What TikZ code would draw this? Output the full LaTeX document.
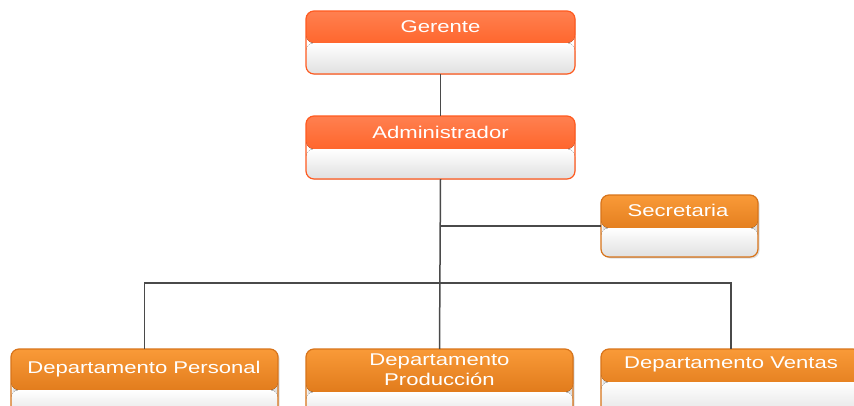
\documentclass[tikz,border=0pt]{standalone}
\usepackage{fontspec}
\usetikzlibrary{shadows}
\newfontfamily\orgfontfam[FakeStretch=1.3]{Liberation Sans}
\newcommand\orgfont{\orgfontfam\fontsize{17}{20}\selectfont}
\definecolor{redborder}{HTML}{FF5A1F}
\definecolor{redtop}{HTML}{FF8050}
\definecolor{redbot}{HTML}{FF4E0C}
\definecolor{oraborder}{HTML}{D8741A}
\definecolor{oratop}{HTML}{F99A38}
\definecolor{orabot}{HTML}{D2680A}
\definecolor{lowbot}{HTML}{E0E0E0}
\definecolor{linecol}{HTML}{4A4A4A}
\tikzset{
  orgbase/.style={draw, rounded corners=8pt, line width=1.2pt, inner sep=0pt, outer sep=0pt, anchor=north west},
  hdr/.style n args={3}{path picture={
      \fill[top color=#2, bottom color=#3] (path picture bounding box.north west) rectangle ([yshift=-#1]path picture bounding box.north east);
      \fill[top color=white, bottom color=lowbot] ([yshift=-#1]path picture bounding box.north west) rectangle (path picture bounding box.south east);
    }},
  redbox/.style={orgbase, draw=redborder, hdr={#1}{redtop}{redbot}},
  orabox/.style={orgbase, draw=oraborder, hdr={#1}{oratop}{orabot},
    drop shadow={shadow xshift=1.5pt, shadow yshift=-1.5pt, opacity=0.25}},
  lbl/.style={text=white, font=\orgfont, inner sep=0pt, outer sep=0pt},
  conn/.style={draw=linecol, line width=1.5pt}
}
\begin{document}
\begin{tikzpicture}[x=1pt,y=-1pt]
\clip (0,0) rectangle (854,405);
\fill[white] (0,0) rectangle (854,405);
\node[redbox=32pt, minimum width=269pt, minimum height=63pt] (g) at (306,11) {};
\node[redbox=33pt, minimum width=269pt, minimum height=63pt] (a) at (306,116) {};
\node[orabox=33pt, minimum width=157pt, minimum height=62pt] (s) at (601,195) {};
\node[orabox=41pt, minimum width=267pt, minimum height=70pt] (dp) at (11,349) {};
\node[orabox=43pt, minimum width=267pt, minimum height=70pt] (dpr) at (306,349) {};
\node[orabox=33pt, minimum width=260pt, minimum height=70pt] (dv) at (601,349) {};
\coordinate (bus) at (440,283);
\draw[conn] (g.south) -- (a.north);
\draw[conn] (a.south) -- (dpr.north);
\draw[conn] (s.west) -- (s.west -| a.south);
\draw[conn] (dp.north) |- (bus) -| (dv.north);
\node[lbl, anchor=base] (gt) at (440.5,32) {Gerente};
\node[lbl, anchor=base] (at) at (440.5,138) {Administrador};
\node[lbl, anchor=base] (st) at (678,216) {Secretaria};
\node[lbl, anchor=base] (dpt) at (144,373) {Departamento Personal};
\node[lbl, align=center] (dprt) at (439.5,370) {Departamento\\Producción};
\node[lbl, anchor=base] (dvt) at (731,368) {Departamento Ventas};
\end{tikzpicture}
\end{document}
